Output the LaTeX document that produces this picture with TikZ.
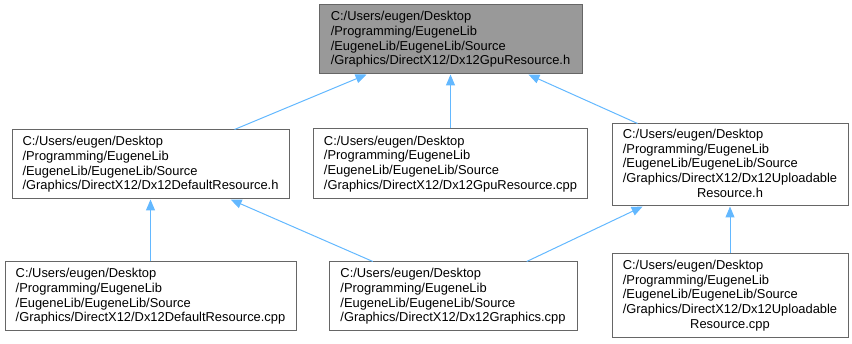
\documentclass[tikz,border=0pt]{standalone}
\usepackage{fontspec}
\setmainfont{Liberation Sans}
\usetikzlibrary{arrows.meta}

\definecolor{edgeblue}{HTML}{63B8FF}
\definecolor{boxline}{HTML}{666666}
\definecolor{rootfill}{HTML}{999999}

\begin{document}
\begin{tikzpicture}[
    x=1pt, y=1pt,
    file/.style={draw=boxline, fill=white, line width=1pt, align=left, inner sep=0pt,
                 font=\fontsize{12.9}{14.7}\selectfont},
    root/.style={file, fill=rootfill},
    arrow/.style={-{Triangle[length=11pt, width=9pt]}, draw=edgeblue, line width=1pt}
]
\useasboundingbox (0,0) rectangle (852,344);

\node[root, minimum width=263, minimum height=69] (gpuh) at (450.5,304.5)
  {C:/Users/eugen/Desktop\\/Programming/EugeneLib\\/EugeneLib/EugeneLib/Source\\/Graphics/DirectX12/Dx12GpuResource.h};

\node[file, minimum width=277, minimum height=69] (defh) at (150.5,179.5)
  {C:/Users/eugen/Desktop\\/Programming/EugeneLib\\/EugeneLib/EugeneLib/Source\\/Graphics/DirectX12/Dx12DefaultResource.h};
\node[file, minimum width=274, minimum height=70] (gpucpp) at (450.5,180)
  {C:/Users/eugen/Desktop\\/Programming/EugeneLib\\/EugeneLib/EugeneLib/Source\\/Graphics/DirectX12/Dx12GpuResource.cpp};
\node[file, minimum width=236, minimum height=82] (uplh) at (730,179)
  {\begin{tabular}{@{}l@{}}C:/Users/eugen/Desktop\\/Programming/EugeneLib\\/EugeneLib/EugeneLib/Source\\/Graphics/DirectX12/Dx12Uploadable\\\multicolumn{1}{@{}c@{}}{Resource.h}\end{tabular}};

\node[file, minimum width=291, minimum height=69] (defcpp) at (150.5,47.5)
  {C:/Users/eugen/Desktop\\/Programming/EugeneLib\\/EugeneLib/EugeneLib/Source\\/Graphics/DirectX12/Dx12DefaultResource.cpp};
\node[file, minimum width=248, minimum height=69] (gfxcpp) at (453,47.5)
  {C:/Users/eugen/Desktop\\/Programming/EugeneLib\\/EugeneLib/EugeneLib/Source\\/Graphics/DirectX12/Dx12Graphics.cpp};
\node[file, minimum width=236, minimum height=84] (uplcpp) at (730,48)
  {\begin{tabular}{@{}l@{}}C:/Users/eugen/Desktop\\/Programming/EugeneLib\\/EugeneLib/EugeneLib/Source\\/Graphics/DirectX12/Dx12Uploadable\\\multicolumn{1}{@{}c@{}}{Resource.cpp}\end{tabular}};

\draw[arrow] (defh) -- (gpuh);
\draw[arrow] (gpucpp) -- (gpuh);
\draw[arrow] (uplh) -- (gpuh);
\draw[arrow] (defcpp) -- (defh);
\draw[arrow] (gfxcpp) -- (defh);
\draw[arrow] (gfxcpp) -- (uplh);
\draw[arrow] (uplcpp) -- (uplh);
\end{tikzpicture}
\end{document}
